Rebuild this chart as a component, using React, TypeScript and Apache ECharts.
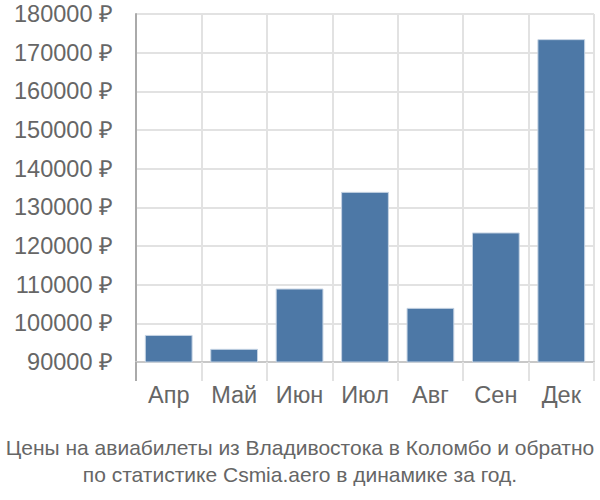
import React, { useEffect, useRef } from "react";
import * as echarts from "echarts";

const categories = ["Апр", "Май", "Июн", "Июл", "Авг", "Сен", "Дек"];
const prices = [97000, 93400, 109000, 134000, 104000, 123500, 173500];
const yMin = 90000;
const yMax = 180000;
const yStep = 10000;
const titleLines = [
  "Цены на авиабилеты из Владивостока в Коломбо и обратно",
  "по статистике Csmia.aero в динамике за год.",
];

export default function App() {
  const ref = useRef<HTMLDivElement>(null);
  useEffect(() => {
    if (!ref.current) return;
    const chart = echarts.init(ref.current, null, { renderer: "svg" });
    const font = "'Liberation Sans', Arial, sans-serif";
    chart.setOption({
      animation: false,
      grid: { left: 136, right: 6, top: 14, bottom: 138 },
      title: {
        text: titleLines.join("\n"),
        left: "center",
        top: 429,
        textStyle: {
          fontFamily: font,
          fontSize: 21,
          fontWeight: "normal",
          color: "#666",
          lineHeight: 27,
        },
      },
      xAxis: {
        type: "category",
        data: categories,
        boundaryGap: true,
        axisLine: { show: true, lineStyle: { color: "#c8c8c8", width: 2 } },
        axisTick: {
          show: true,
          length: 19,
          interval: 0,
          lineStyle: { color: "#e2e2e2", width: 2 },
        },
        axisLabel: {
          fontFamily: font,
          fontSize: 23.5,
          color: "#666",
          margin: 21,
          interval: 0,
        },
        splitLine: { show: true, interval: 0, lineStyle: { color: "#e2e2e2", width: 2 } },
      },
      yAxis: {
        type: "value",
        min: yMin,
        max: yMax,
        interval: yStep,
        axisLine: { show: true, lineStyle: { color: "#aaa", width: 2 } },
        axisTick: { show: false },
        axisLabel: {
          fontFamily: font,
          fontSize: 23.5,
          color: "#666",
          margin: 23,
          formatter: (v: number) => `${v} ₽`,
        },
        splitLine: { show: true, lineStyle: { color: "#e2e2e2", width: 2 } },
      },
      series: [
        {
          type: "bar",
          data: prices,
          barWidth: "73%",
          itemStyle: { color: "#4d78a6", borderColor: "#c5d3e3", borderWidth: 1 },
        },
      ],
      graphic: [
        {
          type: "line",
          shape: { x1: 136, y1: 362, x2: 136, y2: 381 },
          style: { stroke: "#aaa", lineWidth: 2 },
          z: 10,
        },
      ],
    });
    return () => chart.dispose();
  }, []);
  return <div ref={ref} style={{ width: 600, height: 500, position: "absolute", left: 0, top: 0 }} />;
}
